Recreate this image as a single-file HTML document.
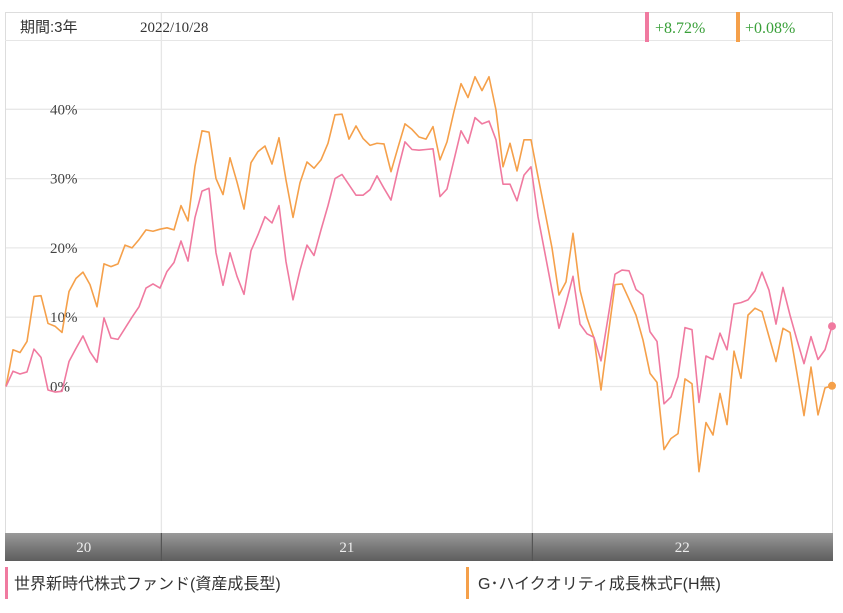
<!DOCTYPE html>
<html><head><meta charset="utf-8">
<style>
body{margin:0;background:#fff;width:843px;height:613px;overflow:hidden;font-family:"Liberation Sans","Noto Sans CJK JP",sans-serif;}
svg{position:absolute;left:0;top:0}
</style></head>
<body>
<svg width="843" height="613">
  <g id="grid"></g>
  <rect x="5.5" y="12.5" width="827" height="548" fill="none" stroke="#ddd"/>
  <line x1="5" y1="40.5" x2="833" y2="40.5" stroke="#e6e6e6"/>
  <text x="20" y="32" font-size="15" fill="#333" font-family="'Liberation Sans','Noto Sans CJK JP',sans-serif">期間:3年</text>
  <text x="140" y="32" font-size="15" fill="#333" font-family="'Liberation Serif',serif">2022/10/28</text>
  <rect x="645" y="12" width="4" height="30" fill="#f07aa0"/>
  <text x="655" y="33" font-size="16" fill="#3aa03a" font-family="'Liberation Serif',serif">+8.72%</text>
  <rect x="736" y="12" width="4" height="30" fill="#f5a04a"/>
  <text x="745" y="33" font-size="16" fill="#3aa03a" font-family="'Liberation Serif',serif">+0.08%</text>
  <g id="ylabels"></g>
  <g id="series"></g>
  <defs><linearGradient id="band" x1="0" y1="0" x2="0" y2="1"><stop offset="0" stop-color="#9a9a9a"/><stop offset="0.5" stop-color="#7a7a7a"/><stop offset="1" stop-color="#5e5e5e"/></linearGradient></defs>
  <g id="yearband">
    <rect x="5" y="533" width="828" height="28" fill="url(#band)"/>
  </g>
  <rect x="5" y="567" width="3" height="32" fill="#f07aa0"/>
  <text x="14" y="589" font-size="16" fill="#333">世界新時代株式ファンド(資産成長型)</text>
  <rect x="466" y="567" width="3" height="32" fill="#f5a04a"/>
  <text x="478" y="589" font-size="16" fill="#333">G･ハイクオリティ成長株式F(H無)</text>
</svg>
<script>
const yTicks=[0,10,20,30,40];
const yearLabels=["20","21","22"];
const yearStarts=[0,22.2,75.2];
const pinkValues=[0,2.2,1.8,2.1,5.4,4.2,-0.5,-0.8,-0.7,3.6,5.5,7.3,5,3.5,9.9,7,6.8,8.4,10,11.5,14.2,14.8,14.2,16.6,17.9,21,18.1,24.4,28.2,28.6,19.3,14.6,19.3,15.9,13.3,19.6,21.9,24.5,23.6,26.1,18,12.5,16.8,20.4,18.9,22.6,26.1,30,30.6,29.1,27.6,27.6,28.4,30.4,28.6,26.9,31.3,35.3,34.2,34.1,
34.2,34.3,27.4,28.5,32.7,36.9,35.1,38.8,37.9,38.3,35.6,29.2,29.2,26.8,30.5,31.7,24.5,19.2,13.9,8.4,12,15.9,9,7.6,7.1,3.7,9.9,16.2,16.8,16.7,14,13.2,7.9,6.5,-2.5,-1.5,1.4,8.5,8.2,-2.3,4.4,3.9,7.7,5.3,11.9,12.1,12.5,13.8,16.5,13.9,9,14.3,10.3,6.7,3.3,7.2,3.9,5.3,8.7];
const orangeValues=[0,5.3,4.9,6.5,13,13.1,9.1,8.7,7.8,13.7,15.6,16.5,14.7,11.5,17.7,17.3,17.7,20.4,20,21.2,22.6,22.4,22.7,22.9,22.6,26.1,23.9,31.8,36.9,36.7,30,27.7,33,29.5,25.6,32.3,33.9,34.7,32.1,35.9,29.8,24.4,29.4,32.4,31.5,32.7,35.1,39.2,39.3,35.7,37.6,35.8,34.8,35.1,35,31,34.5,37.9,37.1,36,
35.7,37.5,32.7,35.3,39.7,43.7,41.7,44.7,42.7,44.7,39.9,31.7,35.1,31.1,35.6,35.6,30.3,25.2,20,13.2,15.1,22.1,13.9,9.9,7,-0.5,7.2,14.7,14.8,12.6,10.3,6.7,1.9,0.6,-9.1,-7.5,-6.8,1.1,0.4,-12.3,-5.2,-7,-1,-5.5,5.1,1.2,10.3,11.3,10.8,7.2,3.6,8.4,7.8,1.9,-4.2,2.8,-4.1,-0.2,0.1];
const NS='http://www.w3.org/2000/svg';
const X0=6,X1=832,Y0=386.5,PPU=6.93;
const n=pinkValues.length;
const xs=i=>X0+(X1-X0)*i/(n-1);
const ys=v=>Y0-v*PPU;
function mk(tag,attrs,parent){const e=document.createElementNS(NS,tag);for(const k in attrs)e.setAttribute(k,attrs[k]);parent.appendChild(e);return e;}
const grid=document.getElementById('grid');
yTicks.forEach(t=>{
  const l=mk('line',{x1:5,x2:833,y1:ys(t),y2:ys(t),stroke:'#e8e8e8','stroke-width':1.3},grid);
  
  
  const tx=mk('text',{x:50,y:ys(t)+5,'font-size':15,fill:'#444','font-family':"'Liberation Serif',serif"},document.getElementById('ylabels'));
  tx.textContent=t+'%';
  
  
});
yearStarts.slice(1).forEach((s,i)=>{
  const l=mk('line',{x1:xs(s),x2:xs(s),y1:12,y2:533,stroke:'#e6e6e6','stroke-width':1.3},grid);
  
  
});
const band=document.getElementById('yearband');
yearLabels.forEach((lab,i)=>{
  const a=xs(yearStarts[i]),b=i+1<yearStarts.length?xs(yearStarts[i+1]):X1;
  if(i>0){const d=mk('line',{x1:a,x2:a,y1:533,y2:561,stroke:'#555','stroke-width':1.2},band);
  
  }
  const t=mk('text',{x:(a+b)/2,y:552,'font-size':15,fill:'#eee','text-anchor':'middle','font-family':"'Liberation Serif',serif"},band);
  t.textContent=lab;
  
  
});
const series=document.getElementById('series');
[[orangeValues,'#f5a04a','orange'],[pinkValues,'#f07aa0','pink']].forEach(([vals,c,nm])=>{
  const p=mk('polyline',{points:vals.map((v,i)=>xs(i)+','+ys(v)).join(' '),fill:'none',stroke:c,'stroke-width':1.6,'stroke-linejoin':'round'},series);
  
  
  const d=mk('circle',{cx:xs(n-1),cy:ys(vals[n-1]),r:4,fill:c},series);
  
  
});
</script>
</body></html>
